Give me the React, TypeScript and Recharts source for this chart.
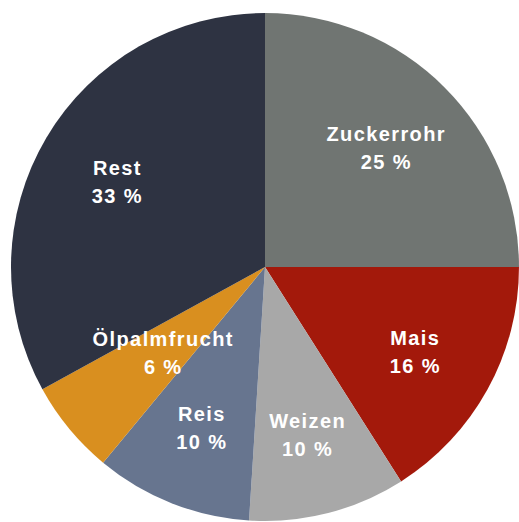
import React from "react";
import { PieChart, Pie, Cell } from "recharts";

const categories = ["Zuckerrohr", "Mais", "Weizen", "Reis", "Ölpalmfrucht", "Rest"];
const shares = [25, 16, 10, 10, 6, 33];
const valueLabels = ["25 %", "16 %", "10 %", "10 %", "6 %", "33 %"];
const colors = ["#707572", "#a3190b", "#a8a8a8", "#67758f", "#d98f1f", "#2e3342"];

const data = categories.map((name, i) => ({ name, value: shares[i], label: valueLabels[i] }));

const RADIAN = Math.PI / 180;

const renderLabel = (props: any) => {
  const { cx, cy, midAngle, outerRadius, index } = props;
  const factor = index === 4 ? 0.52 : 0.675;
  const r = outerRadius * factor;
  const x = cx + r * Math.cos(-midAngle * RADIAN);
  const y = cy + r * Math.sin(-midAngle * RADIAN);
  return (
    <text
      x={x}
      y={y}
      fill="#ffffff"
      textAnchor="middle"
      fontFamily="'Liberation Sans', Arial, sans-serif"
      fontWeight="bold"
      fontSize={20}
      letterSpacing={1.4}
    >
      <tspan x={x} dy={-5}>{categories[index]}</tspan>
      <tspan x={x} dy={28}>{valueLabels[index]}</tspan>
    </text>
  );
};

export default function App() {
  return (
    <div style={{ position: "absolute", left: 0, top: 0, width: 519, height: 522, background: "#fff" }}>
      <PieChart width={519} height={522} margin={{ top: 0, right: 0, bottom: 0, left: 0 }}>
        <Pie
          data={data}
          dataKey="value"
          nameKey="name"
          cx={265}
          cy={267}
          outerRadius={254}
          startAngle={90}
          endAngle={-270}
          stroke="none"
          labelLine={false}
          label={renderLabel}
          isAnimationActive={false}
        >
          {data.map((d, i) => (
            <Cell key={d.name} fill={colors[i]} />
          ))}
        </Pie>
      </PieChart>
    </div>
  );
}
